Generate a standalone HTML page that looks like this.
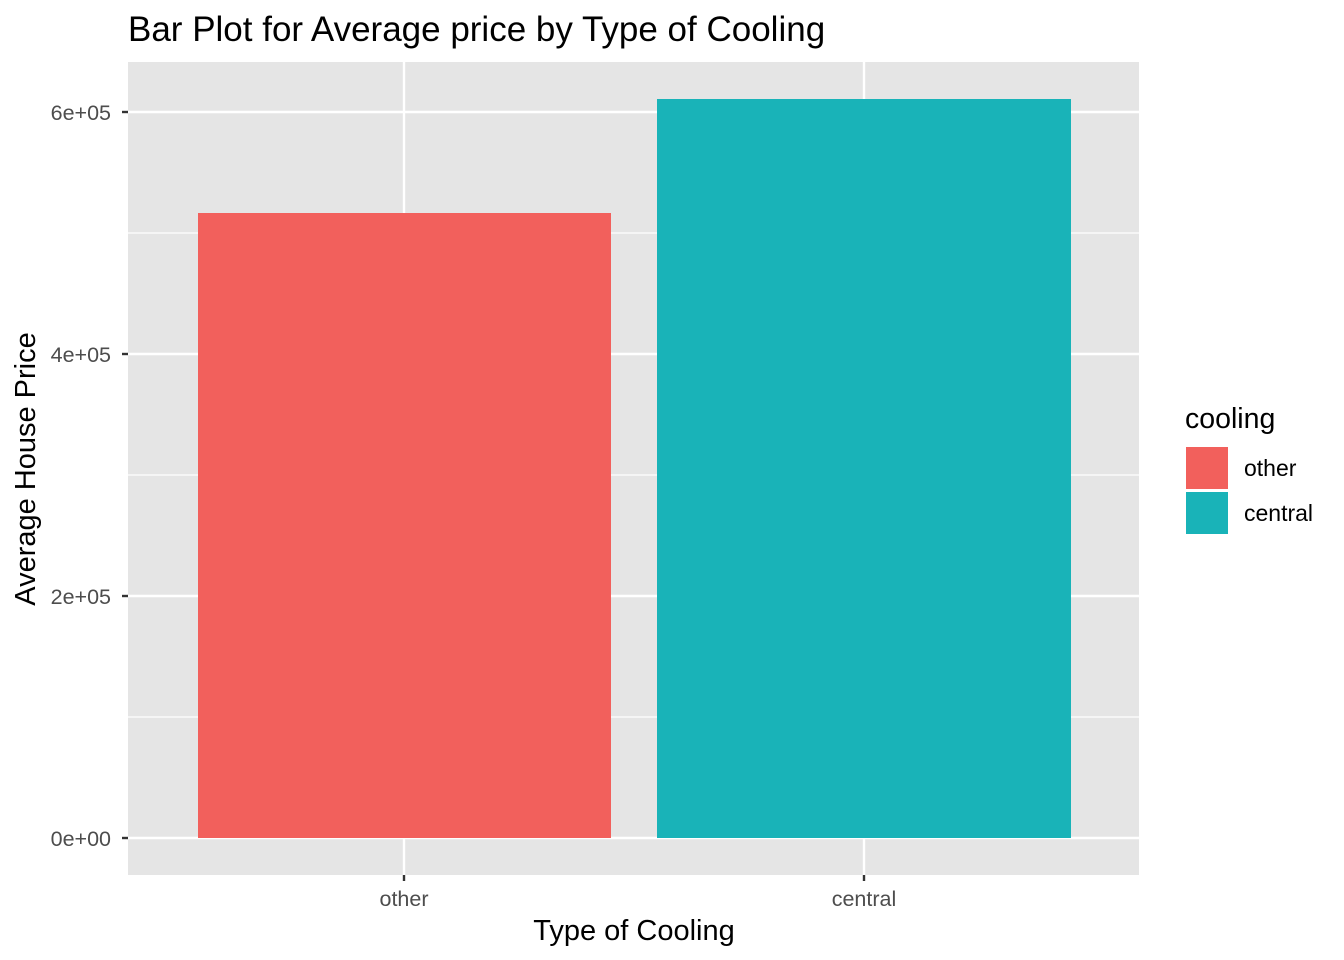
<!DOCTYPE html>
<html><head><meta charset="utf-8"><style>body{margin:0;background:#fff}svg{display:block}</style></head><body>
<svg width="1344" height="960" xmlns="http://www.w3.org/2000/svg" font-family="Liberation Sans, Arial, sans-serif">
<rect x="0" y="0" width="1344" height="960" fill="#fff"/>
<rect x="128" y="62" width="1011" height="813" fill="#e5e5e5"/>
<g stroke="#fff" stroke-width="1.2">
<line x1="128" x2="1139" y1="717" y2="717"/><line x1="128" x2="1139" y1="475" y2="475"/><line x1="128" x2="1139" y1="233" y2="233"/>
</g>
<g stroke="#fff" stroke-width="2.4">
<line x1="128" x2="1139" y1="838" y2="838"/><line x1="128" x2="1139" y1="596" y2="596"/><line x1="128" x2="1139" y1="354" y2="354"/><line x1="128" x2="1139" y1="112" y2="112"/>
<line x1="404" x2="404" y1="62" y2="875"/><line x1="864" x2="864" y1="62" y2="875"/>
</g>
<rect x="198" y="213" width="413" height="625" fill="#f2605c"/>
<rect x="657" y="99" width="414" height="739" fill="#19b3b8"/>
<g stroke="#333" stroke-width="2.4">
<line x1="122" x2="128" y1="838" y2="838"/><line x1="122" x2="128" y1="596" y2="596"/><line x1="122" x2="128" y1="354" y2="354"/><line x1="122" x2="128" y1="112" y2="112"/>
<line x1="404" x2="404" y1="875" y2="881"/><line x1="864" x2="864" y1="875" y2="881"/>
</g>
<g font-size="21.5" fill="#4d4d4d" text-anchor="end">
<text x="111" y="846">0e+00</text><text x="111" y="604">2e+05</text><text x="111" y="362">4e+05</text><text x="111" y="120">6e+05</text>
</g>
<g font-size="21.5" fill="#4d4d4d" text-anchor="middle">
<text x="404" y="906">other</text><text x="864" y="906">central</text>
</g>
<text x="634" y="940" font-size="29" text-anchor="middle" fill="#000">Type of Cooling</text>
<text transform="translate(35,469) rotate(-90)" font-size="29" text-anchor="middle" fill="#000">Average House Price</text>
<text x="128" y="41" font-size="35" fill="#000">Bar Plot for Average price by Type of Cooling</text>
<text x="1185" y="428" font-size="28.5" fill="#000">cooling</text>
<rect x="1185" y="446" width="44" height="44" fill="#f2605c" stroke="#fff" stroke-width="2"/>
<rect x="1185" y="491" width="44" height="44" fill="#19b3b8" stroke="#fff" stroke-width="2"/>
<text x="1244" y="476" font-size="23" fill="#000">other</text>
<text x="1244" y="521" font-size="23" fill="#000">central</text>
</svg>
</body></html>
